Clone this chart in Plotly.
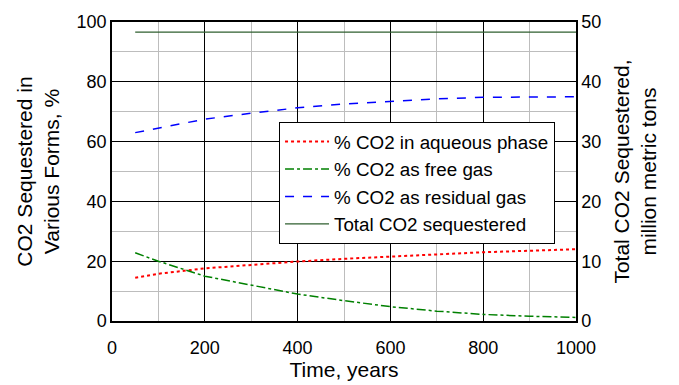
import plotly.graph_objects as go

years = [50, 100, 200, 300, 400, 500, 600, 700, 800, 900, 1000]
aqueous = [14.5, 15.8, 17.6, 18.8, 19.9, 20.8, 21.6, 22.4, 23.0, 23.5, 24.0]
free_gas = [22.8, 20.0, 15.0, 12.0, 9.0, 6.8, 4.8, 3.3, 2.2, 1.6, 1.2]
residual = [63.0, 64.5, 67.5, 69.5, 71.3, 72.6, 73.5, 74.3, 74.8, 75.0, 75.0]
total_years = [50, 1000]
total_mt = [48.3, 48.3]

FONT = "Liberation Sans, Arial, sans-serif"

fig = go.Figure()
fig.add_trace(go.Scatter(x=years, y=aqueous, mode="lines", name="% CO2 in aqueous phase",
                         line=dict(color="#ff0000", width=2, dash="dot")))
fig.add_trace(go.Scatter(x=years, y=free_gas, mode="lines", name="% CO2 as free gas",
                         line=dict(color="#008000", width=1.5, dash="dashdot")))
fig.add_trace(go.Scatter(x=years, y=residual, mode="lines", name="% CO2 as residual gas",
                         line=dict(color="#0000ff", width=1.5, dash="dash")))
fig.add_trace(go.Scatter(x=total_years, y=total_mt, mode="lines", name="Total CO2 sequestered",
                         line=dict(color="#2f5f2f", width=1.4), yaxis="y2"))

fig.update_layout(
    width=679, height=385,
    margin=dict(l=112, r=103, t=20, b=63),
    paper_bgcolor="white", plot_bgcolor="white",
    font=dict(family=FONT, size=18, color="black"),
    showlegend=True,
    legend=dict(x=0.36, y=0.666, xanchor="left", yanchor="top",
                bgcolor="white", bordercolor="black", borderwidth=1,
                font=dict(size=18.8), tracegroupgap=0, itemwidth=44),
    xaxis=dict(range=[0, 1000], tick0=0, dtick=200, showgrid=True, gridcolor="black", gridwidth=1,
               minor=dict(dtick=100, showgrid=True, gridcolor="#bdbdbd", gridwidth=1),
               showline=True, linecolor="black", linewidth=1.5, mirror=True,
               ticks="", zeroline=False, tickfont=dict(size=18), ticklabelstandoff=10,
               title=dict(text="Time, years", standoff=0, font=dict(size=21))),
    yaxis=dict(range=[0, 100], tick0=0, dtick=20, showgrid=True, gridcolor="black", gridwidth=1,
               minor=dict(dtick=10, showgrid=True, gridcolor="#bdbdbd", gridwidth=1),
               showline=True, linecolor="black", linewidth=1.5, mirror=True,
               ticks="", zeroline=False, tickfont=dict(size=18),
               title=dict(text="CO2 Sequestered in<br>Various Forms, %", standoff=11, font=dict(size=21))),
    yaxis2=dict(range=[0, 50], tick0=0, dtick=10, overlaying="y", side="right", showgrid=False,
                showline=True, linecolor="black", linewidth=1.5, ticks="", zeroline=False,
                tickfont=dict(size=18),
                title=dict(text="Total CO2 Sequestered,<br>million metric tons", standoff=14, font=dict(size=21))),
)

fig.write_html("out.html")
